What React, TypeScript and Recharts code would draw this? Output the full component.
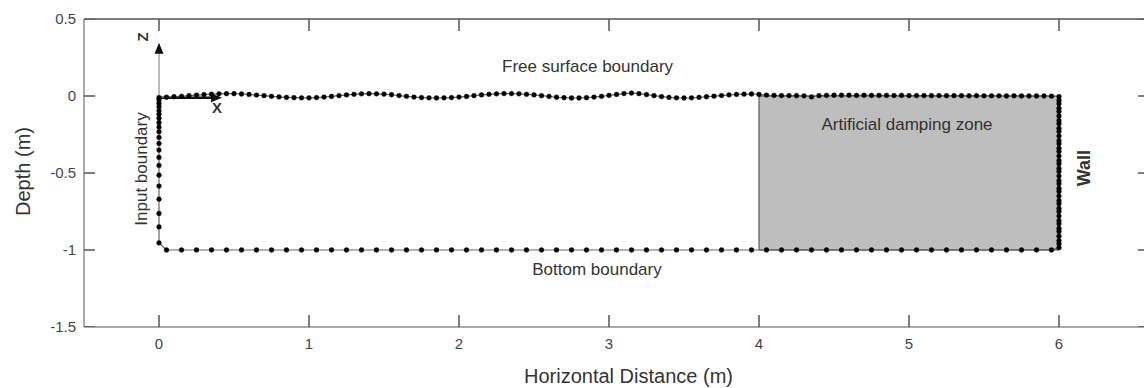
import React from "react";
import {
  ComposedChart,
  Line,
  XAxis,
  YAxis,
  Label,
  ReferenceArea,
  ReferenceLine,
  ReferenceDot,
} from "recharts";

// free surface elevation (m), nodes every 0.05 m from x = 0 to x = 6
const surfaceZ = [
  -0.01, -0.008, -0.005, -0.002, 0.002, 0.006, 0.009, 0.012, 0.014, 0.015,
  0.015, 0.013, 0.01, 0.006, 0.002, -0.002, -0.006, -0.009, -0.011, -0.012,
  -0.012, -0.01, -0.007, -0.003, 0.002, 0.007, 0.011, 0.014, 0.015, 0.014,
  0.012, 0.008, 0.003, -0.002, -0.007, -0.01, -0.012, -0.013, -0.012, -0.01,
  -0.007, -0.003, 0.002, 0.007, 0.011, 0.014, 0.016, 0.016, 0.014, 0.011,
  0.007, 0.002, -0.003, -0.008, -0.011, -0.013, -0.013, -0.011, -0.007, -0.002,
  0.004, 0.01, 0.016, 0.019, 0.015, 0.009, 0.002, -0.004, -0.009, -0.012,
  -0.013, -0.012, -0.009, -0.005, -0.001, 0.003, 0.007, 0.01, 0.012, 0.013,
  0.01, 0.006, 0.004, 0.003, 0.003, 0.002, 0.001, -0.006, 0.002, 0.004,
  0.005, 0.005, 0.005, 0.004, 0.005, 0.004, 0.004, 0.004, 0.003, 0.004,
  0.003, 0.003, 0.003, 0.002, 0.003, 0.002, 0.002, 0.002, 0.001, 0.002,
  0.001, 0.001, 0.001, 0.0, 0.001, 0.0, 0.0, 0.0, 0.0, -0.001,
  -0.005,
];

// wall nodes at x = 6, top to bottom
const wallZ = [
  -0.03, -0.05, -0.08, -0.1, -0.13, -0.16, -0.18, -0.21, -0.23, -0.26,
  -0.29, -0.31, -0.34, -0.36, -0.39, -0.42, -0.44, -0.47, -0.49, -0.52,
  -0.55, -0.57, -0.6, -0.62, -0.65, -0.68, -0.7, -0.73, -0.75, -0.78,
  -0.81, -0.83, -0.86, -0.88, -0.91, -0.94, -0.96, -0.985,
];

// bottom nodes, x = 0.05 ... 5.95
const bottomZ = [
  -1, -1, -1, -1, -1, -1, -1, -1, -1, -1, -1, -1, -1, -1, -1, -1, -1, -1, -1, -1,
  -1, -1, -1, -1, -1, -1, -1, -1, -1, -1, -1, -1, -1, -1, -1, -1, -1, -1, -1, -1,
  -1, -1, -1, -1, -1, -1, -1, -1, -1, -1, -1, -1, -1, -1, -1, -1, -1, -1, -1, -1,
];

// input boundary nodes at x = 0, top to bottom (finer near the surface)
const inputZ = [
  -0.026, -0.048, -0.07, -0.096, -0.119, -0.145, -0.173, -0.202, -0.232, -0.269,
  -0.308, -0.351, -0.399, -0.451, -0.514, -0.585, -0.67, -0.763, -0.85, -0.954,
];

const xTicks = [0, 1, 2, 3, 4, 5, 6];
const yTicks = [0.5, 0, -0.5, -1, -1.5];

const X_DOMAIN: [number, number] = [-0.5, 6.6];
const Y_DOMAIN: [number, number] = [-1.5, 0.5];

const surface = surfaceZ.map((z, i) => ({ x: +(i * 0.05).toFixed(2), z }));
const wall = wallZ.map((z) => ({ x: 6, z }));
const bottom = bottomZ.map((z, i) => ({ x: +(0.05 + i * 0.1).toFixed(2), z }));
const input = inputZ.map((z) => ({ x: 0, z }));

// closed loop of boundary nodes
const boundary = [
  ...surface,
  ...wall,
  ...bottom.slice().reverse(),
  ...input.slice().reverse(),
];

const FONT = "'Liberation Sans', Arial, sans-serif";
const AXIS = "#555";
// inward tick length in axis units (about 11-12 px)
const X_TICK_LEN = 0.078;
const Y_TICK_LEN = 0.074;

// inward tick marks on every side of the frame
const tickMarks = [
  ...xTicks.map((t) => [
    { x: t, z: Y_DOMAIN[0] },
    { x: t, z: Y_DOMAIN[0] + X_TICK_LEN },
  ]),
  ...xTicks.map((t) => [
    { x: t, z: Y_DOMAIN[1] - X_TICK_LEN },
    { x: t, z: Y_DOMAIN[1] },
  ]),
  ...yTicks.map((t) => [
    { x: X_DOMAIN[0], z: t },
    { x: X_DOMAIN[0] + Y_TICK_LEN, z: t },
  ]),
  ...yTicks.map((t) => [
    { x: X_DOMAIN[1] - Y_TICK_LEN, z: t },
    { x: X_DOMAIN[1], z: t },
  ]),
];

const textShape =
  (value: string, size: number, opts: { rotate?: boolean; bold?: boolean } = {}) =>
  (props: any) => {
    const { cx, cy } = props;
    return (
      <text
        x={cx}
        y={cy}
        textAnchor="middle"
        dominantBaseline={opts.rotate ? "central" : "auto"}
        transform={opts.rotate ? `rotate(-90 ${cx} ${cy})` : undefined}
        fontFamily={FONT}
        fontSize={size}
        fontWeight={opts.bold ? "bold" : "normal"}
        fill="#333"
      >
        {value}
      </text>
    );
  };

const arrowUp = (props: any) => {
  const { cx, cy } = props;
  return <path d={`M${cx},${cy} L${cx - 4.5},${cy + 11} L${cx + 4.5},${cy + 11} Z`} fill="#111" />;
};

const arrowRight = (props: any) => {
  const { cx, cy } = props;
  return <path d={`M${cx},${cy} L${cx - 11},${cy - 4.5} L${cx - 11},${cy + 4.5} Z`} fill="#111" />;
};

const tickStyle = { fill: "#444", fontSize: 15, fontFamily: FONT };

export default function App() {
  return (
    <div
      style={{
        position: "absolute",
        left: 0,
        top: 0,
        width: 1144,
        height: 388,
        overflow: "hidden",
        background: "#fff",
      }}
    >
      <ComposedChart
        width={1160}
        height={388}
        margin={{ top: 19, right: 11, bottom: 0, left: 0 }}
      >
        <XAxis
          type="number"
          dataKey="x"
          domain={X_DOMAIN}
          ticks={xTicks}
          allowDataOverflow
          height={61}
          stroke={AXIS}
          tickLine={false}
          tickMargin={5}
          tick={tickStyle}
        >
          <Label
            content={({ viewBox }: any) => (
              <text
                x={viewBox.x + viewBox.width / 2 + 12}
                y={viewBox.y + viewBox.height - 5}
                textAnchor="middle"
                fontFamily={FONT}
                fontSize={20}
                fill="#333"
              >
                Horizontal Distance (m)
              </text>
            )}
          />
        </XAxis>
        <YAxis
          type="number"
          domain={Y_DOMAIN}
          ticks={yTicks}
          allowDataOverflow
          width={84}
          stroke={AXIS}
          tickLine={false}
          tickMargin={2}
          tick={tickStyle}
        >
          <Label
            content={({ viewBox }: any) => {
              const cx = 23;
              const cy = viewBox.y + viewBox.height / 2 - 1.5;
              return (
                <text
                  x={cx}
                  y={cy}
                  textAnchor="middle"
                  dominantBaseline="central"
                  transform={`rotate(-90 ${cx} ${cy})`}
                  fontFamily={FONT}
                  fontSize={20}
                  fill="#333"
                >
                  Depth (m)
                </text>
              );
            }}
          />
        </YAxis>

        {/* top and right edges of the frame */}
        <ReferenceLine
          segment={[
            { x: X_DOMAIN[0], y: Y_DOMAIN[1] },
            { x: X_DOMAIN[1], y: Y_DOMAIN[1] },
          ]}
          stroke={AXIS}
          strokeWidth={1.5}
          ifOverflow="visible"
        />
        <ReferenceLine
          segment={[
            { x: X_DOMAIN[1], y: Y_DOMAIN[0] },
            { x: X_DOMAIN[1], y: Y_DOMAIN[1] },
          ]}
          stroke={AXIS}
          strokeWidth={1.5}
          ifOverflow="visible"
        />

        {/* damping zone */}
        <ReferenceArea
          x1={4}
          x2={6}
          y1={-1}
          y2={0}
          fill="#bebebe"
          fillOpacity={1}
          stroke="#444"
          strokeWidth={1}
        />

        {/* local axes z and x */}
        <ReferenceLine
          segment={[
            { x: 0, y: 0 },
            { x: 0, y: 0.29 },
          ]}
          stroke="#777"
          strokeWidth={1}
        />
        <ReferenceDot x={0} y={0.345} shape={arrowUp} />
        <ReferenceLine
          segment={[
            { x: 0, y: -0.012 },
            { x: 0.36, y: -0.012 },
          ]}
          stroke="#111"
          strokeWidth={2.5}
        />
        <ReferenceDot x={0.42} y={-0.012} shape={arrowRight} />

        {tickMarks.map((seg, i) => (
          <Line
            key={`tick${i}`}
            data={seg}
            dataKey="z"
            type="linear"
            stroke={AXIS}
            strokeWidth={1.5}
            dot={false}
            activeDot={false}
            legendType="none"
            isAnimationActive={false}
          />
        ))}

        <Line
          data={boundary}
          dataKey="z"
          type="linear"
          stroke="#666"
          strokeWidth={1.2}
          dot={{ r: 2.4, fill: "#000", stroke: "#000", strokeWidth: 0.4 }}
          activeDot={false}
          isAnimationActive={false}
        />

        <ReferenceDot x={-0.113} y={0.383} shape={textShape("Z", 15, { rotate: true, bold: true })} />
        <ReferenceDot x={0.387} y={-0.11} shape={textShape("X", 15, { rotate: false, bold: true })} />
        <ReferenceDot x={-0.117} y={-0.474} shape={textShape("Input boundary", 17, { rotate: true })} />
        <ReferenceDot x={6.167} y={-0.468} shape={textShape("Wall", 18, { rotate: true, bold: true })} />
        <ReferenceDot x={2.857} y={0.156} shape={textShape("Free surface boundary", 17)} />
        <ReferenceDot x={4.987} y={-0.221} shape={textShape("Artificial damping zone", 17)} />
        <ReferenceDot x={2.92} y={-1.162} shape={textShape("Bottom boundary", 17)} />
      </ComposedChart>
    </div>
  );
}
